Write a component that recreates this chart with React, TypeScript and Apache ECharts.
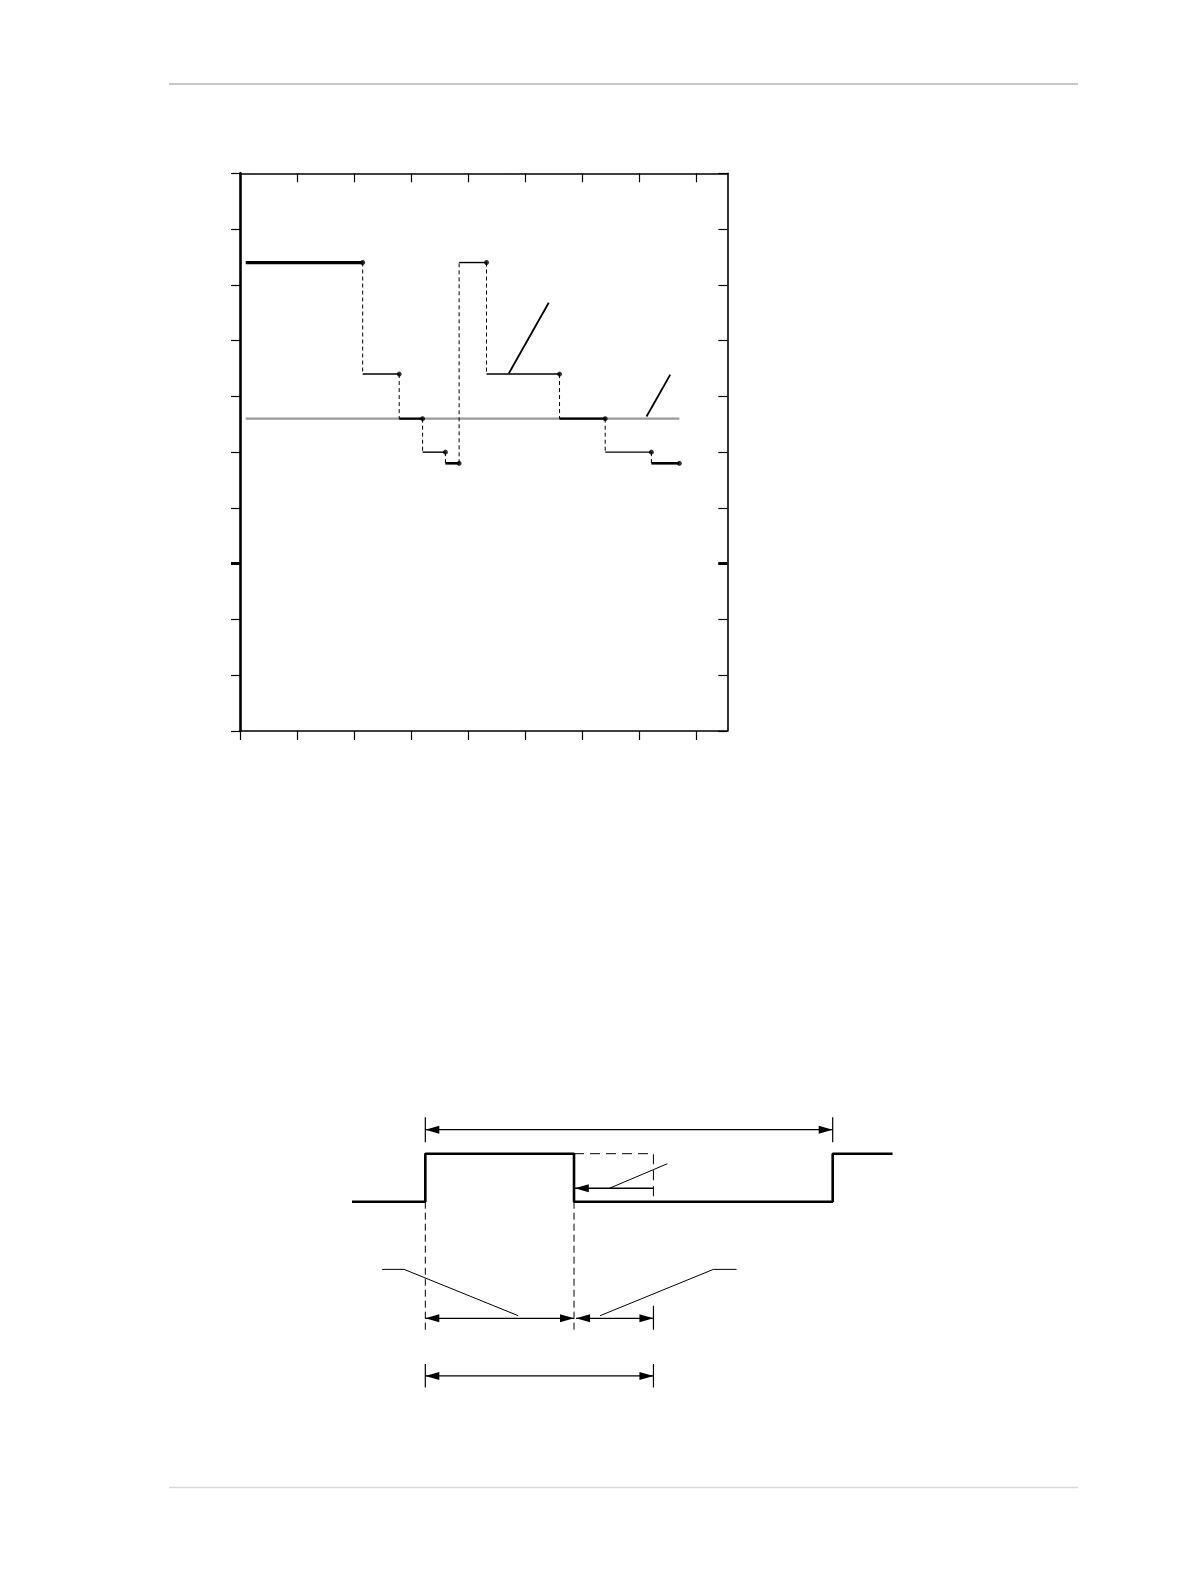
import * as echarts from "echarts";
import React, { useEffect, useRef } from "react";

// upper chart: stepped trace against a reference level
const stepStart = 0.1;
const stepEnds = [2.15, 2.79, 3.2, 3.6, 3.84, 4.32, 5.6, 6.4, 7.21, 7.7];
const stepLevels = [8.4, 6.4, 5.6, 5.0, 4.8, 8.4, 6.4, 5.6, 5.0, 4.8];
const stepWidths = [3.2, 1.4, 2.2, 1.4, 2.6, 1.4, 1.4, 2.2, 1.4, 2.6];
const refLevel = 5.6;
const refSpan = [0.1, 7.7];
const pointerLines = [
  [[4.71, 6.41], [5.41, 7.68]],
  [[7.125, 5.64], [7.54, 6.39]],
];
const xTicks = [0, 1, 2, 3, 4, 5, 6, 7, 8];
const xTicksTop = [1, 2, 3, 4, 5, 6, 7, 8];
const yTicks = [0, 1, 2, 3, 4, 5, 6, 7, 8, 9, 10];
const heavyYTick = [3];

// lower diagram: pulse timing (x in time units, y in signal levels)
const pulseWave = [[-1.8, 0], [0, 0], [0, 1], [3.65, 1], [3.65, 0], [10, 0], [10, 1], [11.47, 1]];
const dashedBox = [[3.65, 1], [5.6, 1], [5.6, 0]];
const dropLines = [
  [[0, 0], [0, -2.67]],
  [[3.65, 0], [3.65, -2.67]],
];
const endTicks = [
  [[0, 1.24], [0, 1.76]],
  [[10, 1.24], [10, 1.76]],
  [[5.6, -2.17], [5.6, -2.67]],
  [[0, -3.38], [0, -3.87]],
  [[5.6, -3.38], [5.6, -3.87]],
];
const calloutLines = [
  [[-1.06, -1.41], [-0.52, -1.41], [2.28, -2.375]],
  [[4.29, -2.375], [7.07, -1.41], [7.64, -1.41]],
  [[4.52, 0.28], [5.94, 0.79]],
];
// x1, y1, x2, y2, head at start, head at end
const dimArrows = [
  [0, 1.5, 10, 1.5, 1, 1],
  [5.6, 0.28, 3.67, 0.28, 0, 1],
  [0, -2.43, 3.65, -2.43, 1, 1],
  [3.7, -2.43, 5.6, -2.43, 1, 1],
  [0, -3.63, 5.6, -3.63, 1, 1],
];

const lineSeries = (data: any[], xi: number, yi: number, width: number, type: any = "solid", color = "#000", z = 3) => ({
  type: "line",
  xAxisIndex: xi,
  yAxisIndex: yi,
  data,
  symbol: "none",
  showSymbol: false,
  silent: true,
  z,
  lineStyle: { color, width, type, cap: "butt" },
});

const arrowItem = (params: any, api: any) => {
  const p1 = api.coord([api.value(0), api.value(1)]);
  const p2 = api.coord([api.value(2), api.value(3)]);
  const dx = p2[0] - p1[0];
  const dy = p2[1] - p1[1];
  const len = Math.sqrt(dx * dx + dy * dy);
  const ux = dx / len;
  const uy = dy / len;
  const hl = 14;
  const hw = 4;
  const head = (tip: number[], dir: number) => ({
    type: "polygon",
    shape: {
      points: [
        tip,
        [tip[0] - dir * ux * hl - uy * hw, tip[1] - dir * uy * hl + ux * hw],
        [tip[0] - dir * ux * hl + uy * hw, tip[1] - dir * uy * hl - ux * hw],
      ],
    },
    style: { fill: "#000" },
  });
  const children: any[] = [
    {
      type: "line",
      shape: { x1: p1[0], y1: p1[1], x2: p2[0], y2: p2[1] },
      style: { stroke: "#000", lineWidth: 1.3 },
    },
  ];
  if (api.value(4)) children.push(head(p1, -1));
  if (api.value(5)) children.push(head(p2, 1));
  return { type: "group", children };
};

const App: React.FC = () => {
  const chartRef = useRef<HTMLDivElement>(null);

  useEffect(() => {
    const myChart = echarts.init(chartRef.current!, undefined, { renderer: "svg" });

    const series: any[] = [];
    series.push(lineSeries([[refSpan[0], refLevel], [refSpan[1], refLevel]], 0, 0, 2.2, "solid", "#9a9a9a", 2));
    stepEnds.forEach((x1, i) => {
      const x0 = i === 0 ? stepStart : stepEnds[i - 1];
      series.push(lineSeries([[x0, stepLevels[i]], [x1, stepLevels[i]]], 0, 0, stepWidths[i]));
      if (i < stepEnds.length - 1) {
        series.push(lineSeries([[x1, stepLevels[i]], [x1, stepLevels[i + 1]]], 0, 0, 1, [4, 3]));
      }
    });
    series.push({
      type: "scatter",
      xAxisIndex: 0,
      yAxisIndex: 0,
      data: stepEnds.map((x, i) => [x, stepLevels[i]]),
      symbolSize: 5,
      itemStyle: { color: "#000" },
      silent: true,
      z: 4,
    });
    pointerLines.forEach((p) => series.push(lineSeries(p, 0, 0, 1.8)));

    series.push(lineSeries(pulseWave, 2, 4, 2.6));
    series.push(lineSeries(dashedBox, 2, 4, 1, [10, 6]));
    dropLines.forEach((p) => series.push(lineSeries(p, 2, 4, 1, [7, 4])));
    endTicks.forEach((p) => series.push(lineSeries(p, 2, 4, 1.2)));
    calloutLines.forEach((p) => series.push(lineSeries(p, 2, 4, 1)));
    series.push({
      type: "custom",
      xAxisIndex: 2,
      yAxisIndex: 4,
      data: dimArrows,
      encode: { x: [0, 2], y: [1, 3] },
      renderItem: arrowItem,
      silent: true,
      z: 4,
    });

    const hidden = { show: false };
    const option = {
      animation: false,
      backgroundColor: "#fff",
      grid: [
        { left: 240, top: 173.3, width: 487.3, height: 557.7 },
        { left: 352, top: 1105.7, width: 541.8, height: 288 },
      ],
      xAxis: [
        {
          type: "value",
          gridIndex: 0,
          position: "bottom",
          min: 0,
          max: 8.54,
          interval: 1,
          axisLine: { onZero: false, lineStyle: { color: "#000", width: 1.6 } },
          axisTick: { length: 9, customValues: xTicks, lineStyle: { color: "#000", width: 1.2 } },
          axisLabel: hidden,
          splitLine: hidden,
        },
        {
          type: "value",
          gridIndex: 0,
          position: "top",
          min: 0,
          max: 8.54,
          interval: 1,
          axisLine: { onZero: false, lineStyle: { color: "#000", width: 1.6 } },
          axisTick: { inside: true, length: 9, customValues: xTicksTop, lineStyle: { color: "#000", width: 1.2 } },
          axisLabel: hidden,
          splitLine: hidden,
        },
        {
          type: "value",
          gridIndex: 1,
          min: -1.8,
          max: 11.5,
          show: false,
          splitLine: hidden,
        },
      ],
      yAxis: [
        {
          type: "value",
          gridIndex: 0,
          position: "left",
          min: 0,
          max: 10,
          interval: 1,
          axisLine: { show: true, onZero: false, lineStyle: { color: "#000", width: 2.6 } },
          axisTick: { show: true, length: 9, customValues: yTicks, lineStyle: { color: "#000", width: 1.2 } },
          axisLabel: hidden,
          splitLine: hidden,
        },
        {
          type: "value",
          gridIndex: 0,
          position: "right",
          min: 0,
          max: 10,
          interval: 1,
          axisLine: { show: true, onZero: false, lineStyle: { color: "#000", width: 1.6 } },
          axisTick: { show: true, inside: true, length: 9, customValues: yTicks, lineStyle: { color: "#000", width: 1.2 } },
          axisLabel: hidden,
          splitLine: hidden,
        },
        {
          type: "value",
          gridIndex: 0,
          position: "left",
          min: 0,
          max: 10,
          interval: 1,
          axisLine: { show: false, onZero: false },
          axisTick: { show: true, length: 9, customValues: heavyYTick, lineStyle: { color: "#000", width: 3 } },
          axisLabel: hidden,
          splitLine: hidden,
        },
        {
          type: "value",
          gridIndex: 0,
          position: "right",
          min: 0,
          max: 10,
          interval: 1,
          axisLine: { show: false, onZero: false },
          axisTick: { show: true, inside: true, length: 9, customValues: heavyYTick, lineStyle: { color: "#000", width: 3 } },
          axisLabel: hidden,
          splitLine: hidden,
        },
        {
          type: "value",
          gridIndex: 1,
          min: -4,
          max: 2,
          show: false,
          splitLine: hidden,
        },
      ],
      graphic: [
        { type: "line", shape: { x1: 169, y1: 84, x2: 1078, y2: 84 }, style: { stroke: "#c8c8c8", lineWidth: 2 } },
        { type: "line", shape: { x1: 169, y1: 1487.5, x2: 1078, y2: 1487.5 }, style: { stroke: "#dadada", lineWidth: 1.5 } },
      ],
      series,
    };

    myChart.setOption(option);

    return () => {
      myChart.dispose();
    };
  }, []);

  return <div ref={chartRef} style={{ position: "absolute", left: 0, top: 0, width: 1190, height: 1580 }} />;
};

export default App;
